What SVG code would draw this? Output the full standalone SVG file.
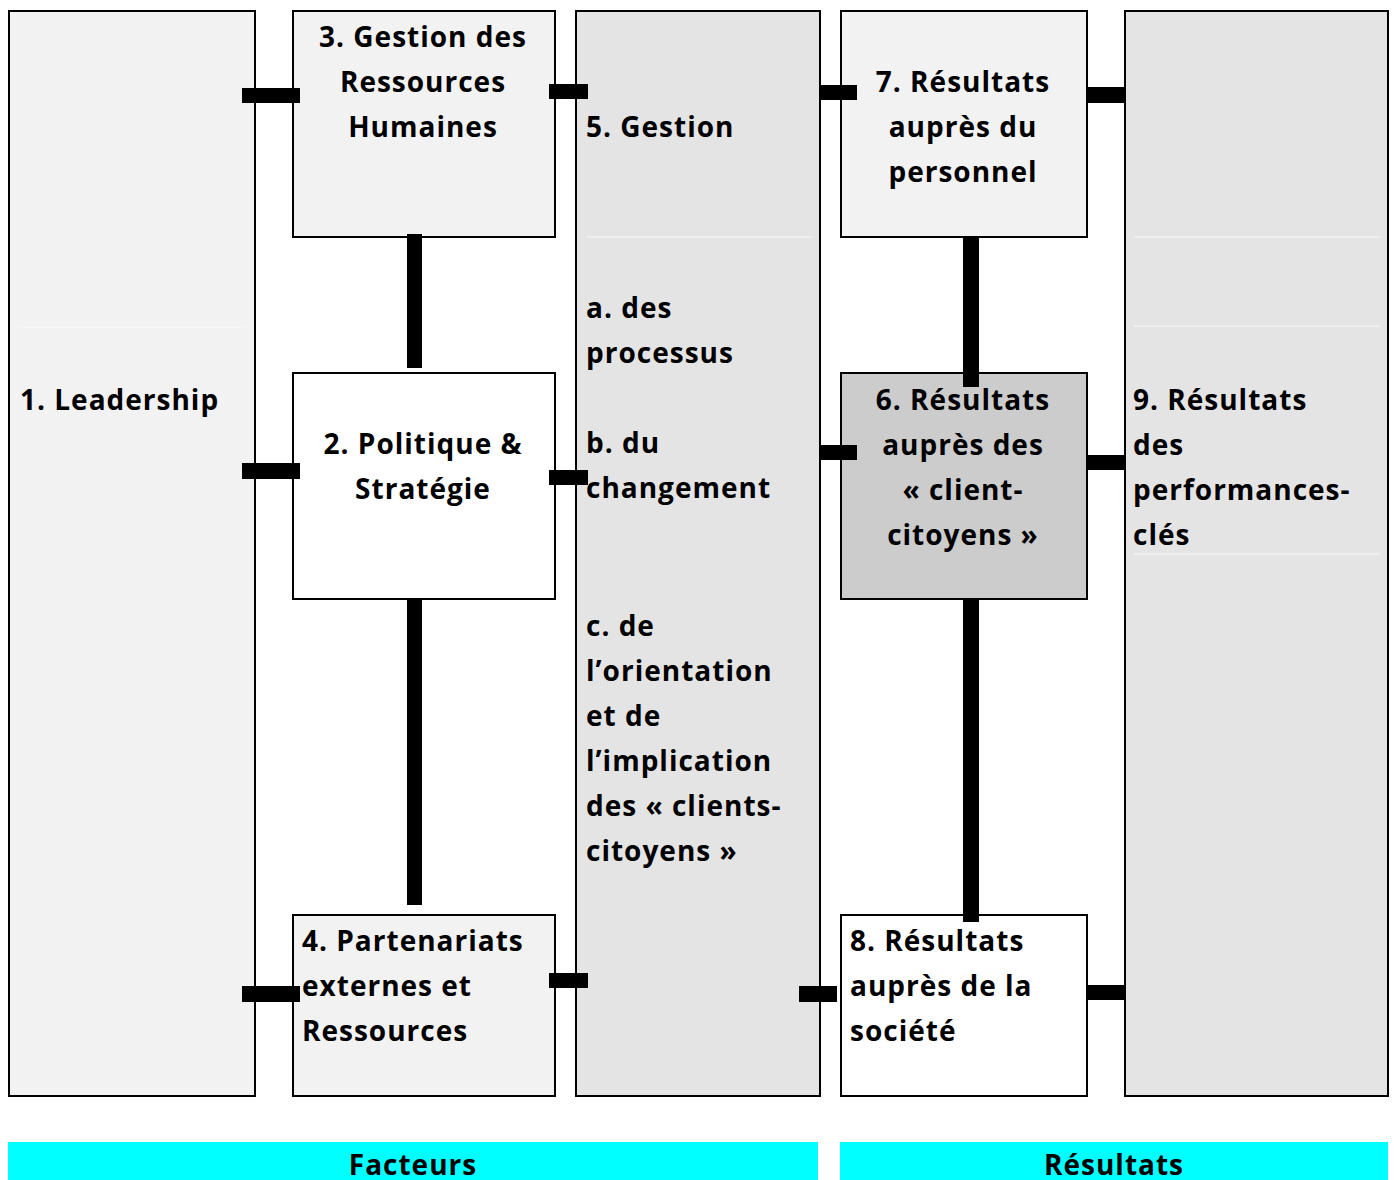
<svg xmlns="http://www.w3.org/2000/svg" width="1396" height="1180" viewBox="0 0 1396 1180">
<style>
.box{stroke:#000;stroke-width:2}
.t{font-family:"Open Sans","DejaVu Sans",sans-serif;font-weight:700;font-size:28px;fill:#000;letter-spacing:1px}
.c{text-anchor:middle}
.bar{fill:#000}
.faint{stroke:#f9f9f9;stroke-width:1}
.foot{fill:#00ffff}
</style>
<rect width="1396" height="1180" fill="#fff"/>
<g id="node1">
<rect class="box" x="9" y="11" width="246" height="1085" fill="#f2f2f2"/>
<line class="faint" x1="18" y1="327" x2="246" y2="327"/>
<text class="t" x="20" y="410">1. Leadership</text>
</g>
<g id="node3">
<rect class="box" x="293" y="11" width="262" height="226" fill="#f2f2f2"/>
<text class="t c" x="423" y="47">3. Gestion des</text>
<text class="t c" x="423" y="92">Ressources</text>
<text class="t c" x="423" y="137">Humaines</text>
</g>
<g id="node2">
<rect class="box" x="293" y="373" width="262" height="226" fill="#fff"/>
<text class="t c" x="423" y="454">2. Politique &amp;</text>
<text class="t c" x="423" y="499">Stratégie</text>
</g>
<g id="node4">
<rect class="box" x="293" y="915" width="262" height="181" fill="#f2f2f2"/>
<text class="t" x="302" y="951">4. Partenariats</text>
<text class="t" x="302" y="996">externes et</text>
<text class="t" x="302" y="1041">Ressources</text>
</g>
<g id="node5">
<rect class="box" x="576" y="11" width="244" height="1085" fill="#e4e4e4"/>
<line class="faint" x1="586" y1="237" x2="812" y2="237"/>
<text class="t" x="586" y="137">5. Gestion</text>
<text class="t" x="586" y="318">a. des</text>
<text class="t" x="586" y="363">processus</text>
<text class="t" x="586" y="453">b. du</text>
<text class="t" x="586" y="498">changement</text>
<text class="t" x="586" y="636">c. de</text>
<text class="t" x="586" y="681">l’orientation</text>
<text class="t" x="586" y="726">et de</text>
<text class="t" x="586" y="771">l’implication</text>
<text class="t" x="586" y="816">des « clients-</text>
<text class="t" x="586" y="861">citoyens »</text>
</g>
<g id="node7">
<rect class="box" x="841" y="11" width="246" height="226" fill="#f2f2f2"/>
<text class="t c" x="963" y="92">7. Résultats</text>
<text class="t c" x="963" y="137">auprès du</text>
<text class="t c" x="963" y="182">personnel</text>
</g>
<g id="node6">
<rect class="box" x="841" y="373" width="246" height="226" fill="#cccccc"/>
<text class="t c" x="963" y="410">6. Résultats</text>
<text class="t c" x="963" y="455">auprès des</text>
<text class="t c" x="963" y="500">« client-</text>
<text class="t c" x="963" y="545">citoyens »</text>
</g>
<g id="node8">
<rect class="box" x="841" y="915" width="246" height="181" fill="#fff"/>
<text class="t" x="850" y="951">8. Résultats</text>
<text class="t" x="850" y="996">auprès de la</text>
<text class="t" x="850" y="1041">société</text>
</g>
<g id="node9">
<rect class="box" x="1125" y="11" width="263" height="1085" fill="#e4e4e4"/>
<line class="faint" x1="1134" y1="237" x2="1380" y2="237"/>
<line class="faint" x1="1134" y1="326" x2="1380" y2="326"/>
<line class="faint" x1="1134" y1="554" x2="1380" y2="554"/>
<text class="t" x="1133" y="410">9. Résultats</text>
<text class="t" x="1133" y="455">des</text>
<text class="t" x="1133" y="500">performances-</text>
<text class="t" x="1133" y="545">clés</text>
</g>
<g id="connectors">
<rect class="bar" x="242" y="88" width="58" height="15"/>
<rect class="bar" x="549" y="84" width="39" height="15"/>
<rect class="bar" x="407" y="234" width="15" height="134"/>
<rect class="bar" x="242" y="463" width="58" height="16"/>
<rect class="bar" x="549" y="470" width="39" height="15"/>
<rect class="bar" x="407" y="599" width="15" height="306"/>
<rect class="bar" x="242" y="986" width="58" height="16"/>
<rect class="bar" x="549" y="973" width="39" height="15"/>
<rect class="bar" x="819" y="85" width="38" height="15"/>
<rect class="bar" x="1087" y="87" width="38" height="16"/>
<rect class="bar" x="963" y="237" width="16" height="150"/>
<rect class="bar" x="819" y="445" width="38" height="15"/>
<rect class="bar" x="1087" y="455" width="38" height="15"/>
<rect class="bar" x="963" y="600" width="16" height="322"/>
<rect class="bar" x="799" y="986" width="38" height="16"/>
<rect class="bar" x="1087" y="985" width="38" height="15"/>
</g>
<g id="footer">
<rect class="foot" x="8" y="1142" width="810" height="38"/>
<rect class="foot" x="840" y="1142" width="548" height="38"/>
<text class="t c" x="413" y="1175">Facteurs</text>
<text class="t c" x="1114" y="1175">Résultats</text>
</g>
</svg>
